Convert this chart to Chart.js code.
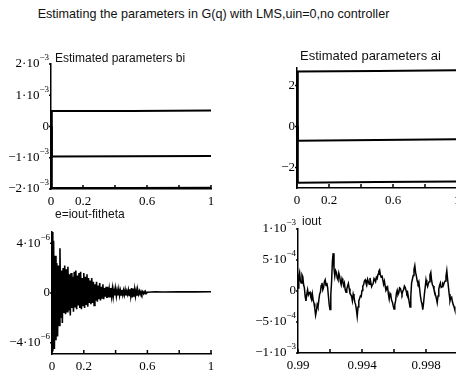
<!DOCTYPE html>
<html>
<head>
<meta charset="utf-8">
<script src="https://cdn.jsdelivr.net/npm/chart.js@4.4.1/dist/chart.umd.min.js"></script>
<style>
    body { margin: 0; background: #fff; }
    #wrap { position: relative; width: 456px; height: 376px; overflow: hidden; }
    #wrap canvas { position: absolute; left: 0; top: 0; }
    #mainTitle { position: absolute; left: 0; width: 427px; top: 7px; text-align: center;
                 font: 12.6px "Liberation Sans", Arial, sans-serif; color: #111; }
</style>
</head>
<body>
<div id="wrap">
    <div id="mainTitle">Estimating the parameters in G(q) with LMS,uin=0,no controller</div>
    <canvas id="bChart" width="470" height="376"></canvas>
    <canvas id="aChart" width="470" height="376"></canvas>
    <canvas id="eChart" width="470" height="376"></canvas>
    <canvas id="ioutChart" width="470" height="376"></canvas>
</div>
<script>
// estimated b parameters (top left)
const bTime = [0, 0.005, 0.5, 1];
const b1 = [0, 5.0e-4, 5.0e-4, 5.1e-4];
const b2 = [0, -9.6e-4, -9.5e-4, -9.4e-4];
const b3 = [0, -1.97e-3, -1.97e-3, -1.96e-3];

// estimated a parameters (top right)
const aTime = [0, 0.005, 0.5, 1];
const a1 = [0, 2.68, 2.7, 2.74];
const a2 = [0, -0.7, -0.66, -0.62];
const a3 = [0, -2.74, -2.71, -2.68];

// e = iout - fitheta, x1e-6, sampled every 0.005 from 0 to 0.6
const eStep = 0.005;
const eHead = [
    4.9, -4.7, 4.2, -4.5, 3.0, -3.8, 2.4, -3.5, 2.2, -2.6,
    3.6, -2.0, 1.8, -2.4, 2.0, -1.6, 2.2, -1.7, 1.9, -1.5,
    2.1, -1.4, 1.5, -1.8, 1.6, -1.2, 1.3, -1.5, 1.7, -1.1,
    1.8, -1.3, 1.4, -1.0, 1.6, -1.2, 1.7, -1.3, 1.2, -1.0,
    1.6, -1.2, 1.3, -0.9, 1.5, -1.1, 1.2, -0.8, 1.0, -0.9,
    1.2, -0.8, 0.9, -1.0, 0.7, -0.6, 0.9, -0.7, 0.6, -0.5,
    0.8, -0.6, 0.5, -0.4, 0.7, -0.5, 0.4, -0.3, 0.5, -0.4,
    0.5, -0.35, 0.3, -0.3, 0.4, -0.25, 0.35, -0.3, 0.25, -0.2,
    0.35, -0.25, 0.2, -0.2, 0.3, -0.2, 0.2, -0.15, 0.25, -0.15,
    0.2, -0.15, 0.25, -0.2, 0.15, -0.1, 0.25, -0.2, 0.3, -0.25,
    0.4, -0.35, 0.35, -0.3, 0.3, -0.25, 0.2, -0.15, 0.2, -0.1,
    0.15, -0.1, 0.12, -0.08, 0.1, -0.05, 0.1, -0.05, 0.08, -0.02,
    0.06
];
const eTailTime = [0.65, 0.7, 0.8, 0.9, 1.0];
const eTail = [0.1, 0.08, 0.1, 0.09, 0.1];

// iout, x1e-4, sampled every 0.00005 from 0.99
const ioutStart = 0.99;
const ioutStep = 0.00005;
const ioutValues = [
    0.5, 2.4, 3.0, 1.6, 1.3, 2.6, 2.3, 1.0, 0.5, -0.9, -1.6, -0.5, 0.2, -0.6, -0.3, -0.2, -1.0, -1.4, -0.5, -1.5,
    -2.0, -2.8, -3.9, -3.2, -2.2, -2.6, -1.5, -0.5, -0.2, 0.9, 1.3, 0.2, 0.6, 1.5, 1.8, 0.9, 1.3, 0.6, -0.8, -2.2,
    -3.0, -0.6, 1.5, 4.8, 6.1, 3.6, 2.4, 3.3, 3.0, 2.1, 1.8, 2.9, 2.4, 1.5, 1.0, 2.0, 1.6, 0.9, 1.3, 0.2,
    -0.2, 0.3, 0.8, 1.2, 0.4, -0.4, -0.6, -0.9, -1.6, -0.5, -1.0, -1.8, -2.2, -3.0, -4.1, -2.6, -1.6, -1.2, -0.8, -0.9,
    0.1, 0.8, 1.0, 1.6, 1.8, 1.3, 1.0, 1.9, 1.5, 1.1, 2.1, 1.4, 0.7, 1.0, 1.2, 2.0, 1.8, 1.5, 2.2, 2.0,
    2.7, 3.2, 3.4, 2.6, 2.2, 2.5, 1.8, 1.1, 1.6, 0.8, 0.1, 0.3, 0.6, -0.5, -1.3, -0.4, -0.7, -1.5, -1.8, -2.4,
    -2.9, -2.2, -1.6, -0.4, 0.1, -0.6, -0.3, 0.5, 0.4, -0.1, -0.5, 0.0, 0.2, 0.8, 0.6, 0.1, -0.4, -0.2, -1.0, -1.8,
    -2.6, -0.9, 1.3, 1.9, 2.5, 3.5, 4.1, 3.0, 2.4, 1.6, 1.2, 1.5, 0.4, -0.8, -1.6, -2.1, -3.0, -1.9, -0.5, 0.6,
    1.8, 1.1, 0.7, 1.2, 1.5, 2.6, 3.0, 1.7, 1.0, 0.8, 0.2, -0.2, -0.7, -1.2, -1.9, -0.8, 0.3, 0.9, 1.3, 0.6,
    0.7, 1.2, 1.0, 1.4, 1.6, 2.4, 3.3, 1.9, 0.7, -0.5, -1.6, -1.1, -1.0, -1.7, -2.2, -2.5, -3.0
];

// ticks
const unitXTicks = [0, 0.2, 0.4, 0.6, 0.8, 1];
const unitXLabels = [0, 0.2, 0.6, 1];
const ioutXTicks = [0.99, 0.992, 0.994, 0.996, 0.998, 1.0];
const ioutXLabels = [0.99, 0.994, 0.998];
const bYTicks = [-2e-3, -1e-3, 0, 1e-3, 2e-3];
const aYTicks = [-2, 0, 2];
const eYTicks = [-4e-6, 0, 4e-6];
const ioutYTicks = [-1e-3, -5e-4, 0, 5e-4, 1e-3];

const CW = 470, CH = 376, YW = 50, XH = 22;
const serif = '"Liberation Serif", "Times New Roman", serif';
const sans = '"Liberation Sans", Arial, sans-serif';

function drawYLabel(ctx, v, x, y, plain) {
    let base, exp = '';
    if (v === 0) {
        base = '0';
    } else if (plain) {
        base = (v < 0 ? '−' : '') + Math.abs(v);
    } else {
        const e = Math.floor(Math.log10(Math.abs(v)) + 1e-9);
        const m = Math.round(v / Math.pow(10, e));
        base = (m < 0 ? '−' : '') + Math.abs(m) + '·10';
        exp = '−' + (-e);
    }
    ctx.textAlign = 'right';
    ctx.textBaseline = 'middle';
    ctx.font = '9px ' + serif;
    const ew = exp ? ctx.measureText(exp).width : 0;
    if (exp) ctx.fillText(exp, x, y - 6);
    ctx.font = '13px ' + serif;
    ctx.fillText(base, x - ew, y);
}

function makePanel(id, p) {
    const datasets = p.series.map(s => ({
        data: s.x.map((x, i) => ({ x: x, y: s.y[i] })),
        borderColor: '#000',
        borderWidth: p.lineWidth,
        pointRadius: 0,
        tension: 0,
        fill: false
    }));

    const deco = {
        id: 'deco',
        afterDraw(chart) {
            const ctx = chart.ctx;
            const area = chart.chartArea;
            const xs = chart.scales.x;
            const ys = chart.scales.y;
            ctx.save();
            ctx.fillStyle = '#000';
            ctx.strokeStyle = '#000';
            ctx.lineWidth = 1.5;
            // x ticks point into the plot
            p.xTicks.forEach(v => {
                const px = xs.getPixelForValue(v);
                ctx.beginPath();
                ctx.moveTo(px, area.bottom);
                ctx.lineTo(px, area.bottom - 4);
                ctx.stroke();
            });
            p.yTicks.forEach(v => {
                const py = ys.getPixelForValue(v);
                ctx.beginPath();
                ctx.moveTo(area.left - 2, py);
                ctx.lineTo(area.left, py);
                ctx.stroke();
                drawYLabel(ctx, v, area.left - 2, py, p.plainY);
            });
            ctx.font = p.titleSize + 'px ' + sans;
            ctx.textAlign = 'left';
            ctx.textBaseline = 'middle';
            ctx.fillStyle = '#111';
            ctx.fillText(p.title, p.titleX, p.titleY);
            ctx.restore();
        }
    };

    new Chart(document.getElementById(id), {
        type: 'line',
        data: { datasets: datasets },
        options: {
            responsive: false,
            animation: false,
            devicePixelRatio: 1,
            layout: {
                padding: {
                    left: p.area.l - YW,
                    right: CW - p.area.r,
                    top: p.area.t,
                    bottom: CH - p.area.b - XH
                }
            },
            plugins: { legend: { display: false }, tooltip: { enabled: false } },
            scales: {
                x: {
                    type: 'linear',
                    min: p.xMin,
                    max: p.xMax,
                    afterBuildTicks: scale => { scale.ticks = p.xTicks.map(v => ({ value: v })); },
                    afterFit: scale => { scale.height = XH; },
                    grid: { display: false, drawTicks: false },
                    border: { display: true, color: '#000', width: 1.5 },
                    ticks: {
                        color: '#000',
                        font: { family: serif, size: 13 },
                        padding: 5,
                        maxRotation: 0,
                        autoSkip: false,
                        callback: v => p.xLabels.some(l => Math.abs(l - v) < 1e-9) ? String(v) : ''
                    }
                },
                y: {
                    type: 'linear',
                    min: p.yMin,
                    max: p.yMax,
                    afterFit: scale => { scale.width = YW; },
                    grid: { display: false, drawTicks: false },
                    border: { display: true, color: '#000', width: 1.5 },
                    ticks: { display: false }
                }
            }
        },
        plugins: [deco]
    });
}

makePanel('bChart', {
    area: { l: 51, r: 211, t: 64, b: 189 },
    xMin: 0, xMax: 1, yMin: -2e-3, yMax: 2e-3,
    xTicks: unitXTicks, xLabels: unitXLabels, yTicks: bYTicks,
    series: [{ x: bTime, y: b1 }, { x: bTime, y: b2 }, { x: bTime, y: b3 }],
    lineWidth: 2,
    title: 'Estimated parameters bi', titleX: 55, titleY: 59, titleSize: 12
});

makePanel('aChart', {
    area: { l: 297, r: 457, t: 68, b: 188 },
    xMin: 0, xMax: 1, yMin: -3, yMax: 2.85,
    xTicks: unitXTicks, xLabels: unitXLabels, yTicks: aYTicks, plainY: true,
    series: [{ x: aTime, y: a1 }, { x: aTime, y: a2 }, { x: aTime, y: a3 }],
    lineWidth: 2,
    title: 'Estimated parameters ai', titleX: 300, titleY: 56, titleSize: 13
});

const eTime = eHead.map((_, i) => i * eStep).concat(eTailTime);
const eValues = eHead.concat(eTail).map(v => v * 1e-6);
makePanel('eChart', {
    area: { l: 52, r: 211, t: 232, b: 354 },
    xMin: 0, xMax: 1, yMin: -4.9e-6, yMax: 4.9e-6,
    xTicks: unitXTicks, xLabels: unitXLabels, yTicks: eYTicks,
    series: [{ x: eTime, y: eValues }],
    lineWidth: 1.6,
    title: 'e=iout-fitheta', titleX: 55, titleY: 215, titleSize: 12
});

const ioutTime = ioutValues.map((_, i) => ioutStart + i * ioutStep);
makePanel('ioutChart', {
    area: { l: 298, r: 458, t: 229, b: 353 },
    xMin: 0.99, xMax: 1.0, yMin: -1e-3, yMax: 1e-3,
    xTicks: ioutXTicks, xLabels: ioutXLabels, yTicks: ioutYTicks,
    series: [{ x: ioutTime, y: ioutValues.map(v => v * 1e-4) }],
    lineWidth: 1.5,
    title: 'iout', titleX: 302, titleY: 222, titleSize: 12
});
</script>
</body>
</html>
